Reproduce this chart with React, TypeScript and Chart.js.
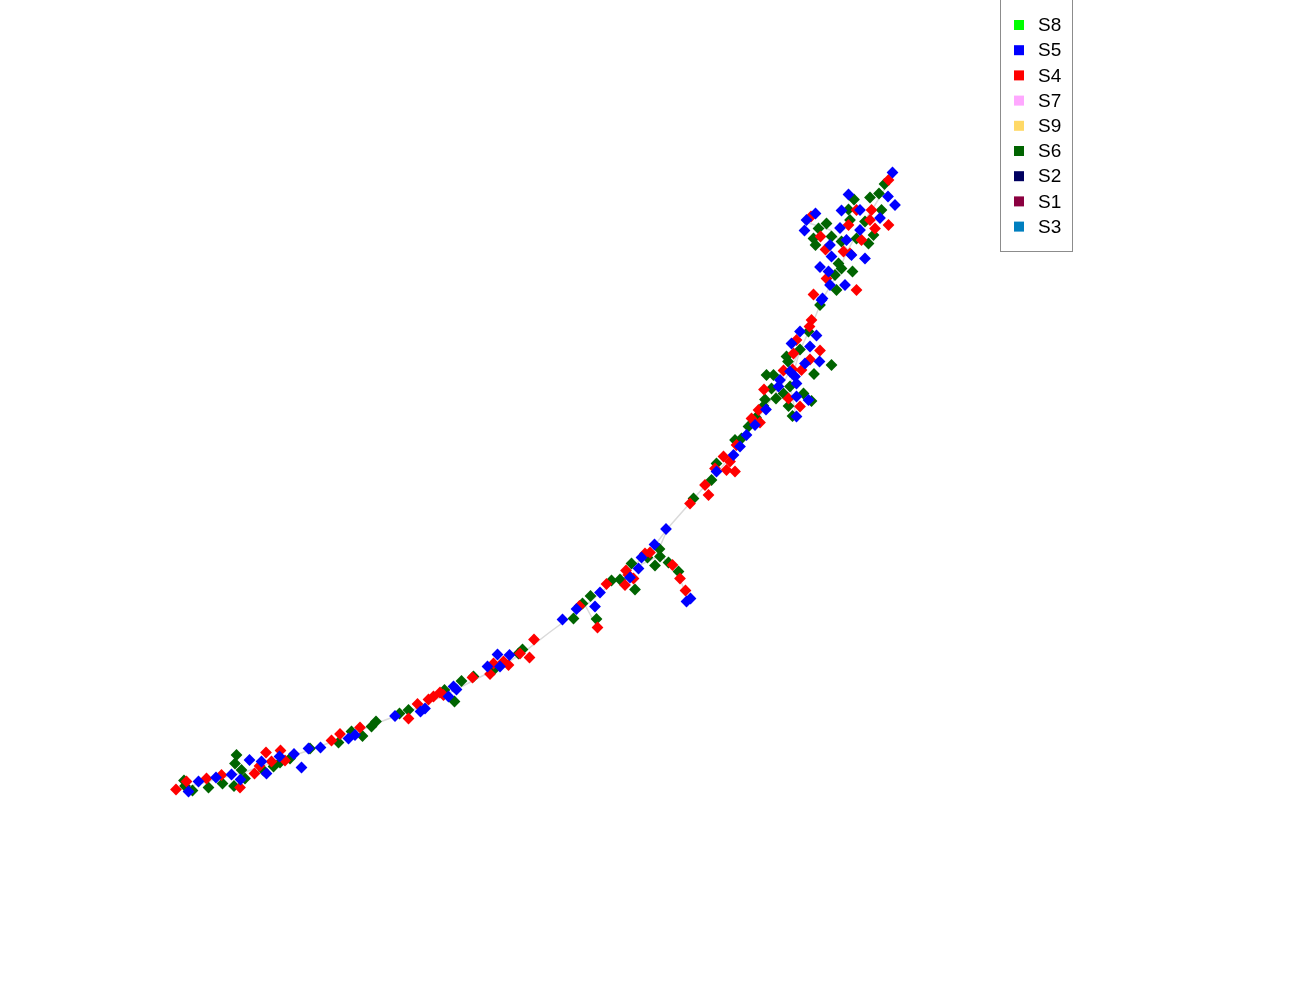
import React, { useEffect, useRef } from "react";
import { Chart, registerables } from "chart.js";

Chart.register(...registerables);

// Series labels and colours (legend order)
const seriesLabels = ["S8", "S5", "S4", "S7", "S9", "S6", "S2", "S1", "S3"];
const seriesColors = ["#00ff00", "#0000ff", "#ff0000", "#ffa8ff", "#ffd966", "#006400", "#00005f", "#8b0040", "#007fbf"];

// Component 1 / Component 2 coordinates per series
const s5Points: number[][] = [
  [4.85, 6.55], [3.97, 6.11], [4.76, 6.07], [4.9, 5.9], [3.31, 5.73], [3.13, 5.6], [3.09, 5.39], [3.83, 5.79],
  [4.2, 5.8], [4.6, 5.64], [3.8, 5.44], [4.2, 5.4], [3.93, 5.2], [3.6, 5.1], [3.63, 4.87], [4.3, 4.83],
  [4.03, 4.9], [3.4, 4.66], [3.57, 4.57], [3.9, 4.3], [3.6, 4.3], [3.45, 4.03],
  [3.43, 4.0], [3.0, 3.37], [3.33, 3.29], [2.83, 3.13], [3.2, 3.07], [3.1, 2.73], [3.39, 2.77], [2.8, 2.57],
  [2.9, 2.47], [2.93, 2.33], [2.6, 2.4], [3.17, 2.0], [2.93, 2.07], [2.32, 1.81], [2.93, 1.67], [2.57, 2.27],
  [2.1, 1.5], [1.93, 1.3], [1.8, 1.07], [1.67, 0.9], [1.33, 0.57],
  [0.32, -0.58], [0.09, -0.89], [-0.23, -1.37], [-0.17, -1.15], [-0.4, -1.55], [-1.0, -1.85], [-1.1, -2.13],
  [-1.47, -2.18], [-1.75, -2.39], [0.73, -2.03], [0.81, -1.97],
  [-3.05, -3.09], [-2.81, -3.1], [-3.25, -3.33], [-3.0, -3.33], [-3.93, -3.73], [-3.87, -3.79], [-4.03, -3.93],
  [-4.5, -4.17], [-4.59, -4.23], [-5.1, -4.32], [-5.9, -4.7], [-6.03, -4.77], [-6.59, -4.95], [-6.83, -4.97],
  [-9.03, -5.63], [-9.23, -5.83], [-8.68, -5.55], [-8.37, -5.49], [-8.01, -5.2], [-7.77, -5.23], [-7.67, -5.47],
  [-8.19, -5.59], [-7.12, -5.08], [-7.41, -5.13], [-6.97, -5.35],
];

const s4Points: number[][] = [
  [4.77, 6.4], [3.22, 5.67], [3.41, 5.27], [3.51, 5.01], [4.43, 5.8], [4.13, 5.8], [3.97, 5.5], [4.4, 5.6],
  [4.5, 5.43], [4.77, 5.5], [4.23, 5.2], [3.87, 4.97], [4.0, 4.93], [3.53, 4.43], [3.27, 4.11], [4.13, 4.2],
  [3.23, 3.6], [3.19, 3.47], [2.93, 3.2], [2.87, 2.93], [3.4, 2.99], [3.2, 2.81], [2.67, 2.59], [2.85, 2.61],
  [3.03, 2.6], [2.28, 2.21], [2.77, 2.03], [3.0, 1.87], [2.17, 1.8], [2.03, 1.63], [2.1, 1.55], [2.2, 1.55],
  [1.73, 1.1], [1.47, 0.87], [1.6, 0.77], [1.53, 0.6], [1.7, 0.57], [1.3, 0.63], [1.1, 0.3], [1.17, 0.1], [0.8, -0.07],
  [0.0, -1.05], [-0.1, -1.07], [0.45, -1.3], [0.6, -1.57], [0.71, -1.81], [-0.48, -1.41], [-0.43, -1.5],
  [-0.33, -1.57], [-0.87, -1.68], [-0.5, -1.7], [-1.41, -2.12], [-1.05, -2.55],
  [-2.32, -2.79], [-2.41, -3.15], [-2.6, -3.07], [-3.2, -3.48], [-3.55, -3.55], [-2.83, -3.3], [-2.93, -3.23],
  [-3.13, -3.27], [-4.2, -3.85], [-4.33, -3.93], [-4.43, -3.99], [-4.13, -3.9], [-4.65, -4.08], [-4.83, -4.37],
  [-5.8, -4.55], [-6.2, -4.68], [-6.37, -4.81],
  [-9.48, -5.79], [-8.87, -5.57], [-8.57, -5.5], [-8.2, -5.75], [-7.91, -5.47], [-7.68, -5.05], [-7.39, -5.01],
  [-7.57, -5.23], [-7.81, -5.32], [-7.3, -5.21], [-9.27, -5.63],
];

const s6Points: number[][] = [
  [4.69, 6.32], [4.08, 6.01], [4.4, 6.05], [4.58, 6.13], [3.53, 5.53], [3.37, 5.43], [3.63, 5.27], [3.27, 5.23],
  [3.31, 5.1], [3.97, 5.81], [4.3, 5.57], [4.63, 5.8], [4.13, 5.23], [4.37, 5.13], [4.47, 5.3], [3.83, 5.17],
  [3.77, 4.73], [3.83, 4.63], [4.05, 4.57], [3.7, 4.5], [3.73, 4.2], [4.0, 5.6],
  [3.4, 3.9], [3.17, 3.37], [3.0, 3.01], [2.73, 2.87], [2.76, 2.77], [3.63, 2.7], [3.28, 2.52], [2.33, 2.5],
  [2.47, 2.5], [2.43, 2.23], [2.8, 2.27], [2.52, 2.03], [2.3, 2.01], [2.67, 2.13], [3.07, 2.13], [3.23, 1.98],
  [2.27, 1.88], [2.77, 1.88], [2.85, 1.68], [2.12, 1.65], [1.97, 1.47],
  [1.83, 1.23], [1.7, 1.2], [1.33, 0.73], [1.23, 0.4], [0.87, 0.03],
  [0.19, -0.98], [0.2, -1.13], [0.1, -1.31], [-0.05, -1.15], [0.37, -1.25], [0.57, -1.43], [-0.37, -1.27],
  [-0.6, -1.59], [-0.77, -1.61], [-0.3, -1.79], [-1.19, -1.92], [-1.35, -2.07], [-1.53, -2.37], [-1.07, -2.38],
  [-2.55, -2.99], [-2.63, -3.07], [-3.13, -3.4], [-3.53, -3.53], [-3.77, -3.62], [-3.91, -4.03], [-4.11, -3.8],
  [-5.01, -4.27], [-4.83, -4.2], [-5.48, -4.43], [-5.57, -4.53], [-5.97, -4.63], [-5.75, -4.72], [-6.23, -4.85],
  [-6.8, -4.97],
  [-9.32, -5.61], [-9.3, -5.72], [-9.15, -5.81], [-8.83, -5.75], [-8.55, -5.67], [-8.27, -5.1], [-8.3, -5.27],
  [-8.32, -5.72], [-8.17, -5.4], [-8.1, -5.57], [-7.53, -5.33], [-7.73, -5.41], [-7.2, -5.17], [-7.4, -5.25],
];

const emptyPoints: number[][] = [];

// Trajectory tree (principal graph) segments
const treeTrunk: number[][] = [
  [-9.5, -5.8], [-8.8, -5.62], [-8.1, -5.44], [-7.4, -5.2], [-6.8, -5.0], [-6.1, -4.74], [-5.4, -4.44],
  [-4.6, -4.14], [-3.9, -3.8], [-3.2, -3.44], [-2.6, -3.1], [-2.0, -2.64], [-1.4, -2.2], [-0.8, -1.7],
  [-0.2, -1.2], [0.1, -0.9], [0.36, -0.56], [0.8, -0.06], [1.2, 0.4], [1.6, 0.84], [1.96, 1.36], [2.3, 1.84],
  [2.7, 2.4], [3.0, 3.0], [3.24, 3.5], [3.44, 4.0], [3.7, 4.44], [3.96, 5.0], [4.2, 5.44], [4.5, 5.9], [4.86, 6.5],
];
const treeBranchA: number[][] = [[0.1, -0.9], [0.3, -1.2], [0.56, -1.5], [0.76, -1.96]];
const treeBranchB: number[][] = [[0.36, -0.56], [0.1, -1.16], [-0.2, -1.3]];
const treeBranchC: number[][] = [[-1.3, -2.1], [-1.06, -2.54]];
const treeBranchD: number[][] = [[3.0, 3.0], [2.8, 2.3], [2.92, 1.68]];
const treeBranchE: number[][] = [[3.96, 5.0], [3.6, 5.4], [3.12, 5.56]];
const treeSegments = [treeTrunk, treeBranchA, treeBranchB, treeBranchC, treeBranchD, treeBranchE];

const seriesPoints = [emptyPoints, s5Points, s4Points, emptyPoints, emptyPoints, s6Points, emptyPoints, emptyPoints, emptyPoints];

const toXY = (arr: number[][]) => arr.map(([x, y]) => ({ x, y }));

const boxLegend = {
  id: "boxLegend",
  afterDraw(chart: any) {
    const ctx = chart.ctx as CanvasRenderingContext2D;
    const left = 1000.5;
    const right = 1072.5;
    const bottom = 251.5;
    ctx.save();
    ctx.fillStyle = "#ffffff";
    ctx.fillRect(left, -1, right - left, bottom + 1);
    ctx.strokeStyle = "#8c8c8c";
    ctx.lineWidth = 1;
    ctx.strokeRect(left, -2, right - left, bottom + 2);
    ctx.font = "19px 'Liberation Sans', Arial, sans-serif";
    ctx.textBaseline = "middle";
    ctx.textAlign = "left";
    const items = chart.data.datasets.filter((d: any) => d.isSeries);
    items.forEach((d: any, i: number) => {
      const cy = 25 + i * 25.2;
      ctx.fillStyle = d.backgroundColor;
      ctx.fillRect(1014, cy - 5, 10, 10);
      ctx.fillStyle = "#000000";
      ctx.fillText(d.label, 1038, cy + 1);
    });
    ctx.restore();
  },
};

export default function App() {
  const canvasRef = useRef<HTMLCanvasElement | null>(null);

  useEffect(() => {
    if (!canvasRef.current) return;
    const pointSets = seriesLabels.map((label, i) => ({
      type: "scatter" as const,
      label,
      isSeries: true,
      data: toXY(seriesPoints[i]),
      backgroundColor: seriesColors[i],
      borderColor: seriesColors[i],
      borderWidth: 0,
      pointStyle: "rectRot",
      pointRadius: 5.9,
      pointHoverRadius: 5.9,
      order: 1,
    }));
    const lineSets = treeSegments.map((seg, i) => ({
      type: "line" as const,
      label: "tree" + i,
      isSeries: false,
      data: toXY(seg),
      borderColor: "#dadada",
      borderWidth: 1.5,
      pointRadius: 0,
      fill: false,
      tension: 0,
      order: 10,
    }));
    const chart = new Chart(canvasRef.current, {
      type: "scatter",
      data: { datasets: [...lineSets, ...pointSets] as any },
      options: {
        animation: false,
        responsive: true,
        maintainAspectRatio: false,
        layout: { padding: 0, autoPadding: false },
        plugins: { legend: { display: false }, tooltip: { enabled: false } },
        scales: {
          x: { type: "linear", min: -13, max: 13, display: false },
          y: { type: "linear", min: -10, max: 10, display: false },
        },
      },
      plugins: [boxLegend],
    });
    return () => chart.destroy();
  }, []);

  return (
    <div style={{ position: "fixed", left: 0, top: 0, width: 1300, height: 1000, background: "#ffffff" }}>
      <canvas ref={canvasRef} />
    </div>
  );
}
